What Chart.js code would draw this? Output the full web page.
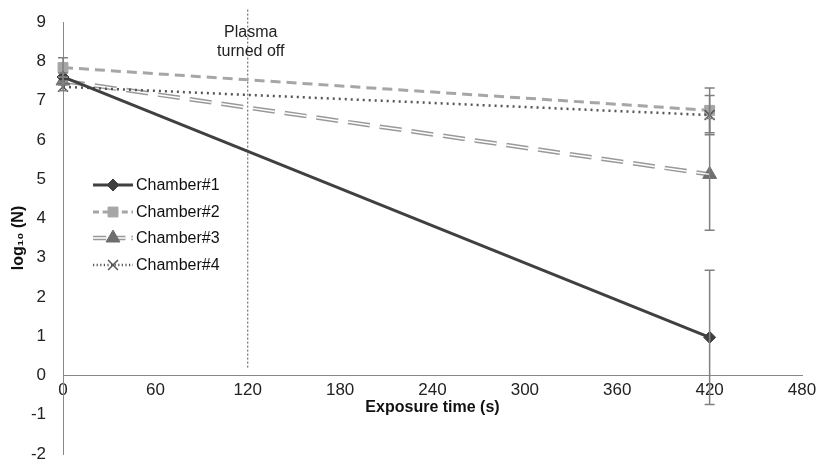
<!DOCTYPE html>
<html>
<head>
<meta charset="utf-8">
<script src="https://cdn.jsdelivr.net/npm/chart.js@4"></script>
<style>
  body { margin: 0; background: #fff; }
  #wrap { width: 818px; height: 463px; }
</style>
</head>
<body>
<div id="wrap"><canvas id="chart"></canvas></div>
<script>
var times = [0, 420];
var chamber1 = [7.6, 0.97];
var chamber2 = [7.84, 6.75];
var chamber3 = [7.5, 5.12];
var chamber4 = [7.35, 6.63];
var err1 = [0.1, 1.71];
var err2 = [0.25, 0.57];
var err3 = [0.1, 1.42];
var err4 = [0.1, 0.5];
var seriesNames = ["Chamber#1", "Chamber#2", "Chamber#3", "Chamber#4"];
var xTicks = [0, 60, 120, 180, 240, 300, 360, 420, 480];
var plasmaOffAt = 120;
var plasmaLabel = ["Plasma", "turned off"];

function pts(vals) {
  return times.map(function (t, i) { return { x: t, y: vals[i] }; });
}

var series = [
  { name: seriesNames[0], data: chamber1, err: err1, color: "#404040", width: 3, dash: [], style: "rectRot", radius: 6, fill: "#404040", pb: 1, order: 0 },
  { name: seriesNames[1], data: chamber2, err: err2, color: "#a6a6a6", width: 3, dash: [10, 6], style: "rect", radius: 7, fill: "#a6a6a6", pb: 1, order: 3 },
  { name: seriesNames[2], data: chamber3, err: err3, color: "#999999", width: 4.5, dash: [22, 10], style: "triangle", radius: 8, fill: "#6e6e6e", pb: 1, order: 2, hollow: true },
  { name: seriesNames[3], data: chamber4, err: err4, color: "#555555", width: 2.5, dash: [2, 4], style: "crossRot", radius: 7, fill: "#555555", pb: 1.5, order: 1 }
];

var datasets = [];
series.forEach(function (s) {
  datasets.push({
    label: s.name,
    data: pts(s.data),
    errors: s.err,
    order: s.order,
    borderColor: s.color,
    borderWidth: s.width,
    borderDash: s.dash,
    pointStyle: s.style,
    pointRadius: s.radius,
    pointBackgroundColor: s.fill,
    pointBorderColor: s.fill,
    pointBorderWidth: s.pb,
    tension: 0,
    clip: false
  });
  if (s.hollow) {
    datasets.push({
      label: s.name + "_inner",
      data: pts(s.data),
      order: s.order - 0.5,
      borderColor: "#ffffff",
      borderWidth: 1.5,
      borderDash: s.dash,
      pointRadius: 0,
      tension: 0,
      clip: false
    });
  }
});

var extras = {
  id: "extras",
  beforeDatasetsDraw: function (chart) {
    var ctx = chart.ctx, xs = chart.scales.x, ys = chart.scales.y;
    var px = xs.getPixelForValue(plasmaOffAt);
    ctx.save();
    ctx.strokeStyle = "#555";
    ctx.lineWidth = 1;
    ctx.setLineDash([2, 2]);
    ctx.beginPath();
    ctx.moveTo(px, ys.getPixelForValue(0.2));
    ctx.lineTo(px, ys.getPixelForValue(9.35));
    ctx.stroke();
    ctx.setLineDash([]);
    ctx.fillStyle = "#222";
    ctx.font = "16px 'Liberation Sans', Arial, sans-serif";
    ctx.textAlign = "center";
    ctx.textBaseline = "middle";
    ctx.fillText(plasmaLabel[0], px + 3, 33);
    ctx.fillText(plasmaLabel[1], px + 3, 52);
    ctx.restore();
  },
  afterDatasetsDraw: function (chart) {
    var ctx = chart.ctx, xs = chart.scales.x, ys = chart.scales.y;
    ctx.save();
    ctx.strokeStyle = "#808080";
    ctx.lineWidth = 1.5;
    chart.data.datasets.forEach(function (ds) {
      if (!ds.errors) return;
      ds.data.forEach(function (p, i) {
        var x = xs.getPixelForValue(p.x);
        var yt = ys.getPixelForValue(p.y + ds.errors[i]);
        var yb = ys.getPixelForValue(p.y - ds.errors[i]);
        ctx.beginPath();
        ctx.moveTo(x, yt); ctx.lineTo(x, yb);
        ctx.moveTo(x - 5, yt); ctx.lineTo(x + 5, yt);
        ctx.moveTo(x - 5, yb); ctx.lineTo(x + 5, yb);
        ctx.stroke();
      });
    });
    // legend inside the plot
    var lx0 = 93, lx1 = 133, ly = [185, 212, 238, 265];
    series.forEach(function (s, i) {
      var y = ly[i];
      ctx.setLineDash(s.dash.length ? s.dash.map(function (d) { return d * 0.6; }) : []);
      ctx.strokeStyle = s.color;
      ctx.lineWidth = s.width;
      ctx.beginPath(); ctx.moveTo(lx0, y); ctx.lineTo(lx1, y); ctx.stroke();
      if (s.hollow) {
        ctx.strokeStyle = "#fff"; ctx.lineWidth = 1.5;
        ctx.beginPath(); ctx.moveTo(lx0, y); ctx.lineTo(lx1, y); ctx.stroke();
      }
      ctx.setLineDash([]);
      ctx.fillStyle = s.fill;
      ctx.strokeStyle = s.fill;
      ctx.lineWidth = s.pb;
      Chart.helpers.drawPoint(ctx, { pointStyle: s.style, rotation: 0, radius: s.radius, borderWidth: s.pb }, (lx0 + lx1) / 2, y);
      ctx.fillStyle = "#111";
      ctx.font = "16px 'Liberation Sans', Arial, sans-serif";
      ctx.textAlign = "left";
      ctx.textBaseline = "middle";
      ctx.fillText(s.name, lx1 + 3, y + 1);
    });
    ctx.restore();
  }
};

function noPad(axis) {
  axis.paddingTop = 0; axis.paddingBottom = 0;
  axis.paddingLeft = 0; axis.paddingRight = 0;
}

new Chart(document.getElementById("chart"), {
  type: "line",
  data: { datasets: datasets },
  plugins: [extras],
  options: {
    responsive: true,
    maintainAspectRatio: false,
    animation: false,
    layout: { padding: { top: 22, right: 16, bottom: 2, left: 4 } },
    plugins: { legend: { display: false }, tooltip: { enabled: false } },
    scales: {
      x: {
        type: "linear",
        position: { y: 0 },
        min: 0, max: 480,
        afterBuildTicks: function (axis) { axis.ticks = xTicks.map(function (v) { return { value: v }; }); },
        afterFit: noPad,
        grid: { display: false, drawTicks: true, tickLength: 5, color: "#888" },
        border: { color: "#888", width: 1 },
        ticks: { color: "#222", font: { family: "'Liberation Sans', Arial", size: 17 }, padding: 0, maxRotation: 0 },
        title: { display: true, text: "Exposure time (s)", color: "#111", font: { family: "'Liberation Sans', Arial", size: 16, weight: "bold" }, padding: { top: -3, bottom: 0 } }
      },
      y: {
        min: -2, max: 9,
        ticks: { stepSize: 1, color: "#222", font: { family: "'Liberation Sans', Arial", size: 17 }, padding: 12 },
        grid: { display: false, drawTicks: true, tickLength: 5, color: "#888" },
        border: { color: "#888", width: 1 },
        title: { display: true, text: "log\u2081\u2080 (N)", color: "#111", font: { family: "'Liberation Sans', Arial", size: 16, weight: "bold" }, padding: { top: 5, bottom: 0 } },
        afterFit: function (axis) { noPad(axis); axis.width = 59; }
      }
    }
  }
});
</script>
</body>
</html>
